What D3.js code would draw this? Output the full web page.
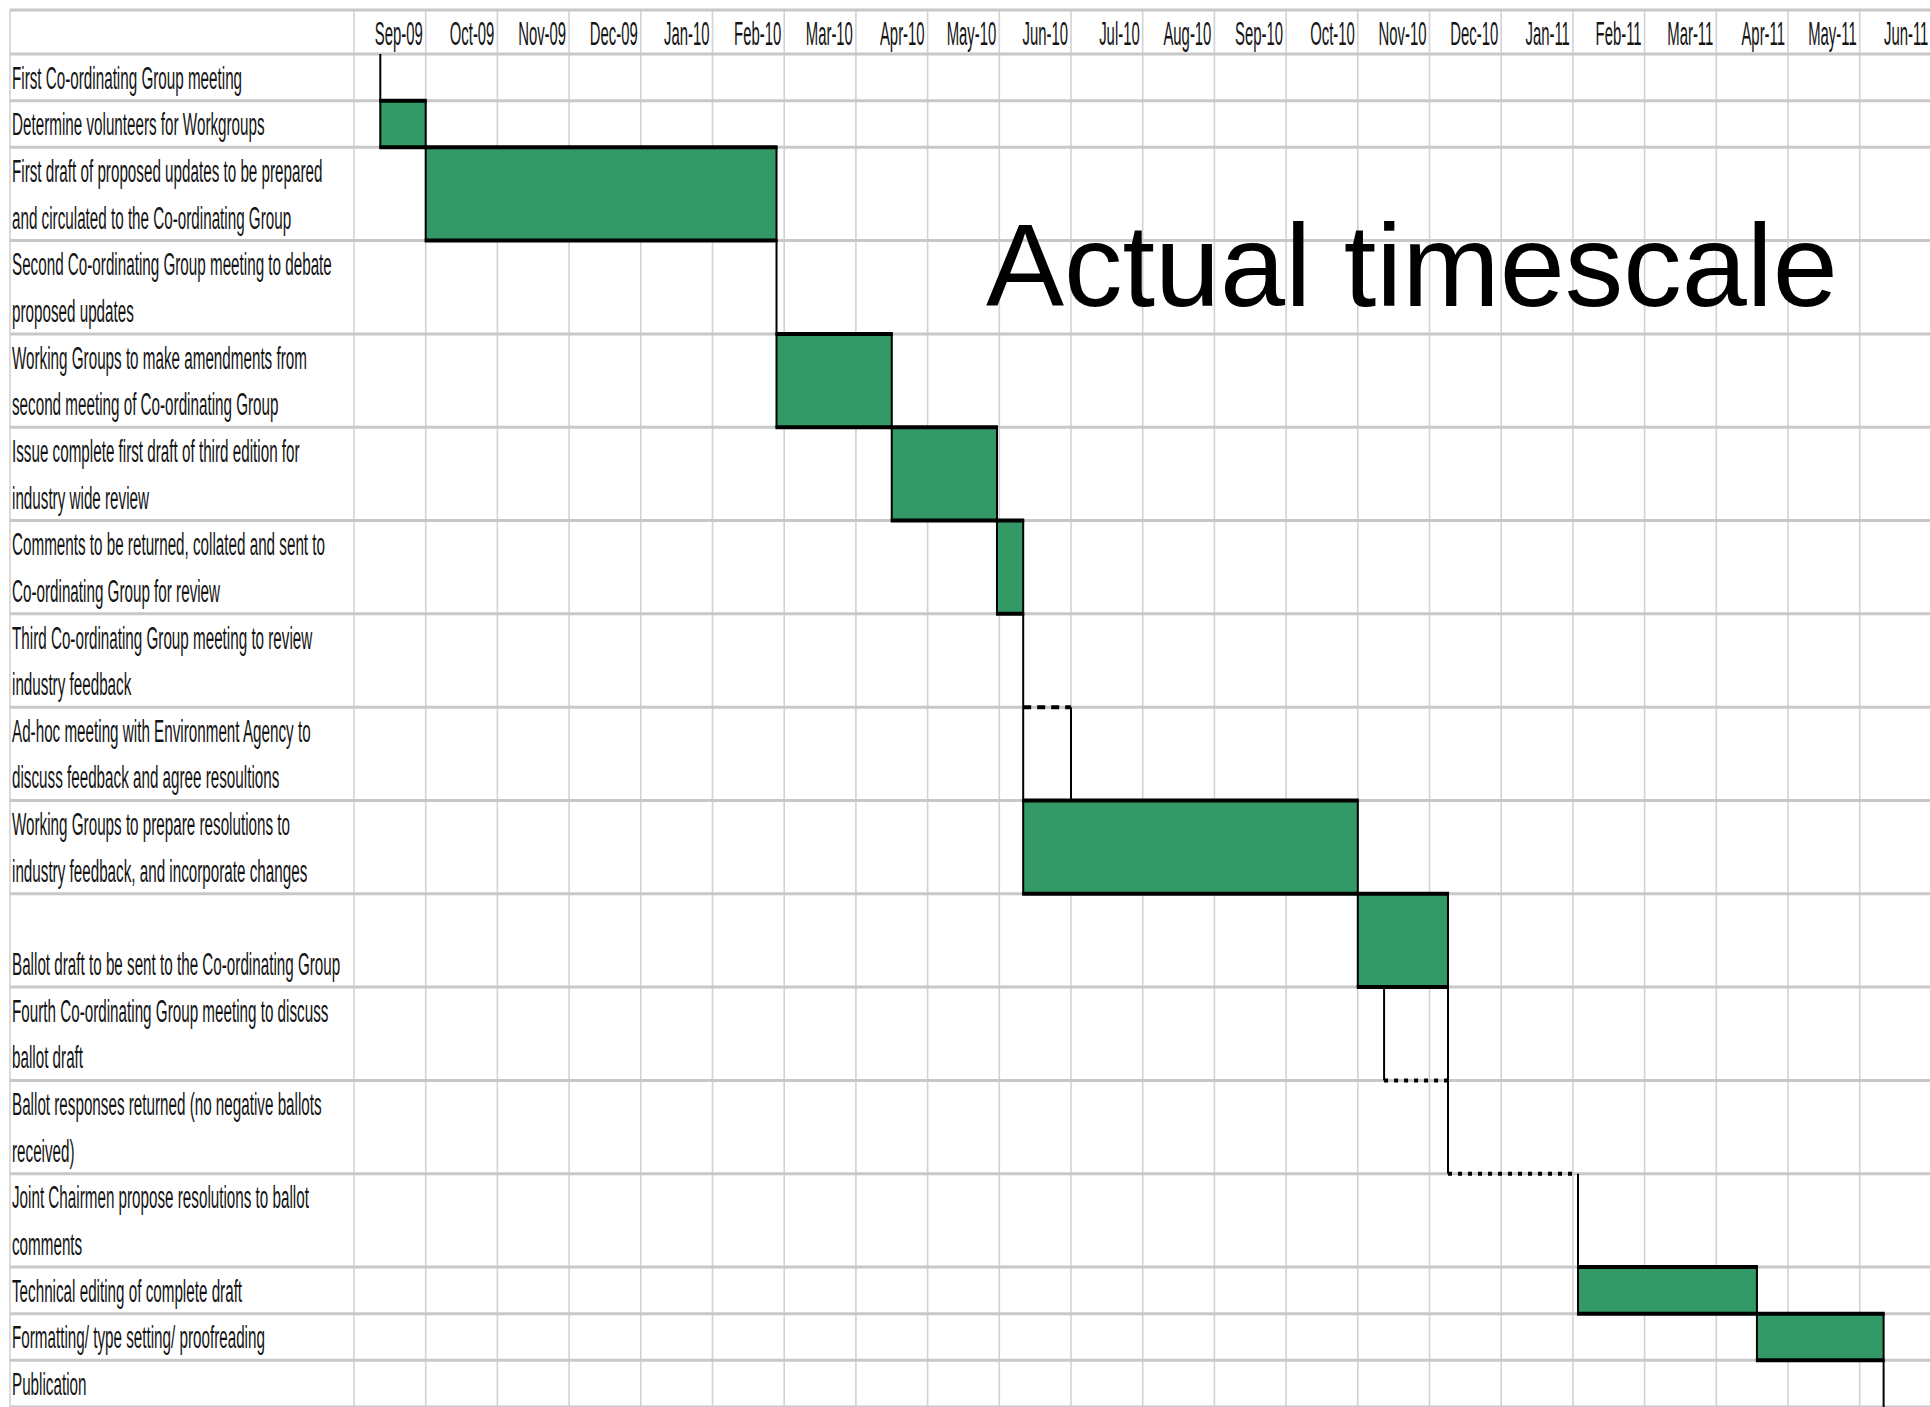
<!DOCTYPE html>
<html>
<head>
<meta charset="utf-8">
<script src="https://cdn.jsdelivr.net/npm/d3@7"></script>
<style>
  html, body { margin: 0; padding: 0; background: #fff; }
</style>
</head>
<body>
<div id="chart"></div>
<script>
// column headings, one per month
var monthLabels = ['Sep-09', 'Oct-09', 'Nov-09', 'Dec-09', 'Jan-10', 'Feb-10', 'Mar-10', 'Apr-10',
  'May-10', 'Jun-10', 'Jul-10', 'Aug-10', 'Sep-10', 'Oct-10', 'Nov-10', 'Dec-10', 'Jan-11',
  'Feb-11', 'Mar-11', 'Apr-11', 'May-11', 'Jun-11'];
var firstMonth = '2009-09-01';

// one entry per row, each row split into its text lines
var taskLabels = [
  ['First Co-ordinating Group meeting'],
  ['Determine volunteers for Workgroups'],
  ['First draft of proposed updates to be prepared', 'and circulated to the Co-ordinating Group'],
  ['Second Co-ordinating Group meeting to debate', 'proposed updates'],
  ['Working Groups to make amendments from', 'second meeting of Co-ordinating Group'],
  ['Issue complete first draft of third edition for', 'industry wide review'],
  ['Comments to be returned, collated and sent to', 'Co-ordinating Group for review'],
  ['Third Co-ordinating Group meeting to review', 'industry feedback'],
  ['Ad-hoc meeting with Environment Agency to', 'discuss feedback and agree resoultions'],
  ['Working Groups to prepare resolutions to', 'industry feedback, and incorporate changes'],
  ['', 'Ballot draft to be sent to the Co-ordinating Group'],
  ['Fourth Co-ordinating Group meeting to discuss', 'ballot draft'],
  ['Ballot responses returned (no negative ballots', 'received)'],
  ['Joint Chairmen propose resolutions to ballot', 'comments'],
  ['Technical editing of complete draft'],
  ['Formatting/ type setting/ proofreading'],
  ['Publication']
];

// start == end means a one-day event (drawn as a line)
var taskStarts = ['2009-09-12', '2009-09-12', '2009-10-01', '2010-02-26', '2010-02-26', '2010-04-16',
  '2010-05-31', '2010-06-11', '2010-07-01', '2010-06-11', '2010-11-01', '2010-11-12', '2010-12-09',
  '2011-02-03', '2011-02-03', '2011-04-18', '2011-06-11'];
var taskEnds = ['2009-09-12', '2009-10-01', '2010-02-26', '2010-02-26', '2010-04-16', '2010-05-31',
  '2010-06-11', '2010-06-11', '2010-07-01', '2010-11-01', '2010-12-09', '2010-11-12', '2010-12-09',
  '2011-02-03', '2011-04-18', '2011-06-11', '2011-06-11'];

// dependencies: [from row, to row, kind]
var links = [[7, 8, 'wait'], [7, 9, 'direct'], [10, 12, 'direct'], [11, 12, 'float'], [12, 13, 'float']];

var chartTitle = 'Actual timescale';

// layout
var width = 1930;
var height = 1407;
var gridLeft = 10;
var gridTop = 10;
var labelRight = 354;
var headerBottom = 54;
var colWidth = 71.7;
var barColor = '#339966';
var textColor = '#141414';
var fontFamily = "'Liberation Sans Narrow', 'Arial Narrow', 'Liberation Sans', Arial, sans-serif";

var parseDate = d3.timeParse('%Y-%m-%d');
var month0 = parseDate(firstMonth);

// fractional month index, so every month column has the same width
function monthPosition(s) {
  var d = parseDate(s);
  var m = d3.timeMonth.floor(d);
  var days = d3.timeDay.count(m, d3.timeMonth.offset(m, 1));
  return d3.timeMonth.count(month0, m) + d3.timeDay.count(m, d) / days;
}

var x = d3.scaleLinear()
  .domain([0, monthLabels.length])
  .range([labelRight, labelRight + colWidth * monthLabels.length]);

var lineStart = [];
var totalLines = 0;
taskLabels.forEach(function (lines) {
  lineStart.push(totalLines);
  totalLines += lines.length;
});

var y = d3.scaleLinear()
  .domain([0, totalLines])
  .range([headerBottom, height]);

function rowTop(i) { return y(lineStart[i]); }
function rowBottom(i) { return y(lineStart[i] + taskLabels[i].length); }

var svg = d3.select('#chart')
  .append('svg')
  .attr('width', width)
  .attr('height', height)
  .style('display', 'block')
  .style('background', '#fff');

// squeeze the text to the narrow look of the sheet
function fitScale(sample, size, target) {
  var t = svg.append('text')
    .attr('font-size', size)
    .style('font-family', fontFamily)
    .text(sample);
  var w = t.node().getComputedTextLength();
  t.remove();
  return target / w;
}

var labelSize = 31;
var headerSize = 34;
var labelScale = fitScale('Second Co-ordinating Group meeting to debate', labelSize, 320);
var headerScale = fitScale('Sep-09', headerSize, 48);

// grid
var grid = svg.append('g');

var rowLines = [gridTop, headerBottom];
taskLabels.forEach(function (d, i) { rowLines.push(rowBottom(i)); });

grid.selectAll('.vline')
  .data(d3.range(monthLabels.length + 1))
  .enter()
  .append('line')
  .attr('class', 'vline')
  .attr('x1', function (d) { return x(d); })
  .attr('x2', function (d) { return x(d); })
  .attr('y1', gridTop)
  .attr('y2', height)
  .attr('stroke', '#d2d2d2')
  .attr('stroke-width', 1.6);

grid.append('line')
  .attr('x1', gridLeft)
  .attr('x2', gridLeft)
  .attr('y1', gridTop)
  .attr('y2', height)
  .attr('stroke', '#d2d2d2')
  .attr('stroke-width', 1.6);

grid.selectAll('.hline')
  .data(rowLines)
  .enter()
  .append('line')
  .attr('class', 'hline')
  .attr('x1', gridLeft)
  .attr('x2', width)
  .attr('y1', function (d) { return d; })
  .attr('y2', function (d) { return d; })
  .attr('stroke', '#c8c8c8')
  .attr('stroke-width', 3);

// month headings, right aligned in each column
svg.selectAll('.month')
  .data(monthLabels)
  .enter()
  .append('text')
  .attr('class', 'month')
  .attr('transform', function (d, i) {
    return 'translate(' + (x(i + 1) - 3) + ',' + (headerBottom - 9) + ') scale(' + headerScale + ',1)';
  })
  .attr('text-anchor', 'end')
  .attr('font-size', headerSize)
  .style('font-family', fontFamily)
  .attr('fill', textColor)
  .text(function (d) { return d; });

// task labels
var labelData = [];
taskLabels.forEach(function (lines, i) {
  lines.forEach(function (line, j) {
    labelData.push({ text: line, baseline: y(lineStart[i] + j + 1) - 12 });
  });
});

svg.selectAll('.label')
  .data(labelData)
  .enter()
  .append('text')
  .attr('class', 'label')
  .attr('transform', function (d) {
    return 'translate(' + (gridLeft + 2) + ',' + d.baseline + ') scale(' + labelScale + ',1)';
  })
  .attr('font-size', labelSize)
  .style('font-family', fontFamily)
  .attr('fill', textColor)
  .text(function (d) { return d.text; });

var tasks = taskLabels.map(function (d, i) {
  return { row: i, start: monthPosition(taskStarts[i]), end: monthPosition(taskEnds[i]) };
});
var bars = tasks.filter(function (d) { return d.end > d.start; });
var events = tasks.filter(function (d) { return d.end === d.start; });

var marks = svg.append('g');

marks.selectAll('.bar')
  .data(bars)
  .enter()
  .append('rect')
  .attr('class', 'bar')
  .attr('x', function (d) { return x(d.start); })
  .attr('y', function (d) { return rowTop(d.row); })
  .attr('width', function (d) { return x(d.end) - x(d.start); })
  .attr('height', function (d) { return rowBottom(d.row) - rowTop(d.row); })
  .attr('fill', barColor)
  .attr('stroke', '#000')
  .attr('stroke-width', 2);

// heavier top and bottom edges
marks.selectAll('.bar-edge')
  .data(bars)
  .enter()
  .append('path')
  .attr('class', 'bar-edge')
  .attr('d', function (d) {
    var x0 = x(d.start) - 1, x1 = x(d.end) + 1;
    return 'M' + x0 + ',' + rowTop(d.row) + 'H' + x1 +
      'M' + x0 + ',' + rowBottom(d.row) + 'H' + x1;
  })
  .attr('stroke', '#000')
  .attr('stroke-width', 4)
  .attr('fill', 'none');

marks.selectAll('.event')
  .data(events)
  .enter()
  .append('line')
  .attr('class', 'event')
  .attr('x1', function (d) { return x(d.start); })
  .attr('x2', function (d) { return x(d.start); })
  .attr('y1', function (d) { return rowTop(d.row); })
  .attr('y2', function (d) { return rowBottom(d.row); })
  .attr('stroke', '#000')
  .attr('stroke-width', 2);

var linkStyle = {
  direct: { width: 2, dash: null },
  wait: { width: 4, dash: '8,6' },
  float: { width: 4, dash: '4,6' }
};

marks.selectAll('.link')
  .data(links)
  .enter()
  .append('path')
  .attr('class', 'link')
  .attr('d', function (d) {
    var a = tasks[d[0]], b = tasks[d[1]];
    return 'M' + x(a.end) + ',' + rowBottom(a.row) + 'V' + rowTop(b.row) + 'H' + x(b.start);
  })
  .attr('fill', 'none')
  .attr('stroke', '#000')
  .attr('stroke-width', function (d) { return linkStyle[d[2]].width; })
  .attr('stroke-dasharray', function (d) { return linkStyle[d[2]].dash; });

svg.append('text')
  .attr('x', 986)
  .attr('y', 306)
  .attr('font-size', 117)
  .style('font-family', "'Liberation Sans', Arial, sans-serif")
  .attr('fill', '#000')
  .text(chartTitle);
</script>
</body>
</html>
